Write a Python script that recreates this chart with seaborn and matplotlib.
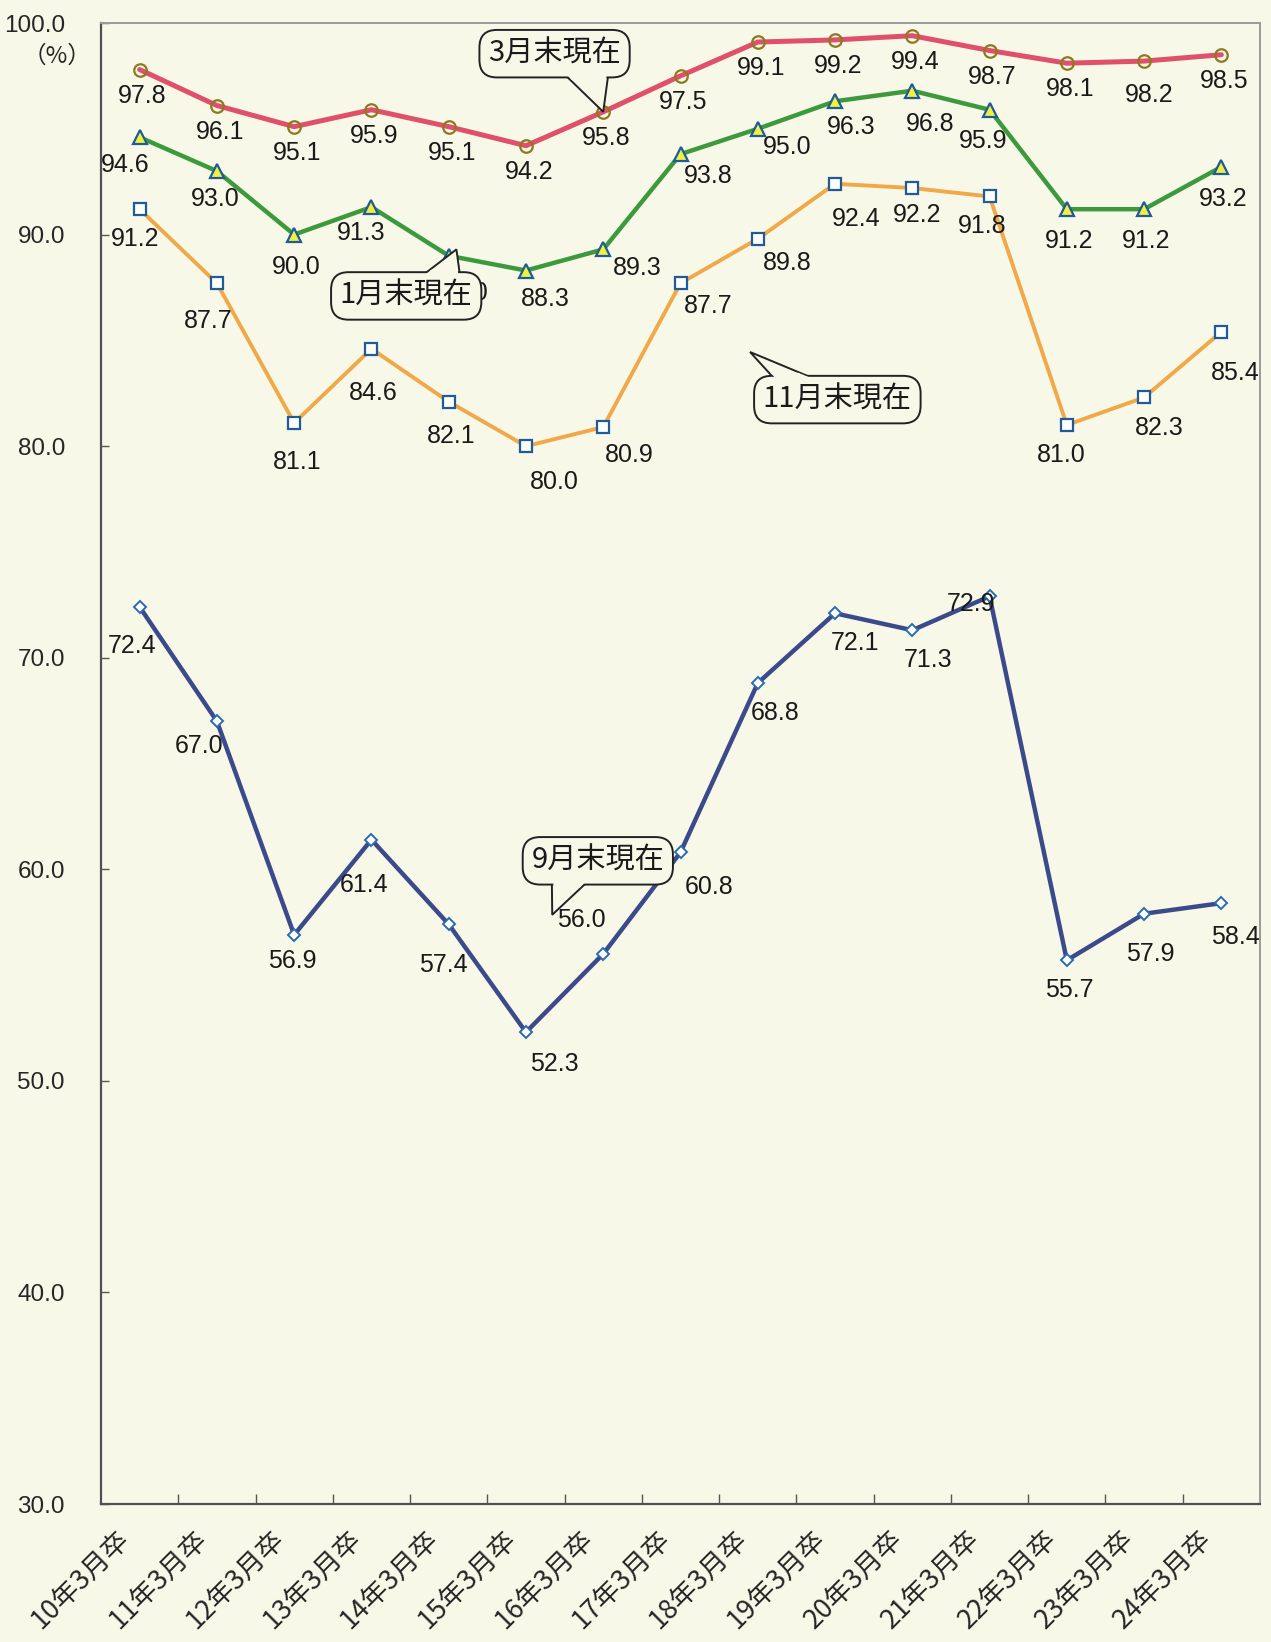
#!/usr/bin/env python3
"""Employment rate of new graduates at end of Sep / Nov / Jan / Mar (line chart)."""
import numpy as np
import pandas as pd
import seaborn as sns
import matplotlib.pyplot as plt
import matplotlib.transforms as mtransforms
from matplotlib.patches import Polygon

# ---- data ----
years = ["10年3月卒", "11年3月卒", "12年3月卒", "13年3月卒", "14年3月卒",
         "15年3月卒", "16年3月卒", "17年3月卒", "18年3月卒", "19年3月卒",
         "20年3月卒", "21年3月卒", "22年3月卒", "23年3月卒", "24年3月卒"]
rate_mar = [97.8, 96.1, 95.1, 95.9, 95.1, 94.2, 95.8, 97.5, 99.1, 99.2, 99.4, 98.7, 98.1, 98.2, 98.5]
rate_jan = [94.6, 93.0, 90.0, 91.3, 89.0, 88.3, 89.3, 93.8, 95.0, 96.3, 96.8, 95.9, 91.2, 91.2, 93.2]
rate_nov = [91.2, 87.7, 81.1, 84.6, 82.1, 80.0, 80.9, 87.7, 89.8, 92.4, 92.2, 91.8, 81.0, 82.3, 85.4]
rate_sep = [72.4, 67.0, 56.9, 61.4, 57.4, 52.3, 56.0, 60.8, 68.8, 72.1, 71.3, 72.9, 55.7, 57.9, 58.4]
y_ticks = [30, 40, 50, 60, 70, 80, 90, 100]

BG = "#f8f8e8"
INK = "#222222"
sns.set_theme(style="white")
plt.rcParams["font.family"] = ["Liberation Sans", "Noto Sans CJK JP", "DejaVu Sans"]
JP = ["Noto Sans CJK JP", "DejaVu Sans"]

# label nudges in pixels: default per series + exceptions
series = [
    dict(name="3月末現在", vals=rate_mar, color="#e0506a", lw=3.6,
         marker="o", ms=9, mfc="none", mec="#8a7a20", mew=1.6,
         nudge=(3, -26), fix={13: (5, -34), 16: (19, -25), 17: (12, -29), 18: (19, -34), 19: (20, -31)}),
    dict(name="1月末現在", vals=rate_jan, color="#3c9a3c", lw=3.2,
         marker="^", ms=10, mfc="#f0f040", mec="#1f5a9a", mew=1.6,
         nudge=(2, -32), fix={0: (-14, -28), 1: (-2, -28), 3: (-10, -26), 4: (16, -37), 5: (19, -28),
                              6: (34, -19), 7: (28, -22), 8: (29, -18), 9: (16, -26), 10: (18, -33),
                              11: (-6, -31)}),
    dict(name="11月末現在", vals=rate_nov, color="#f0a848", lw=2.8,
         marker="s", ms=9, mfc="white", mec="#1f5a9a", mew=1.6,
         nudge=(2, -34), fix={0: (-5, -30), 1: (-9, -38), 2: (3, -39), 3: (2, -44), 5: (28, -36),
                              6: (26, -28), 7: (28, -23), 8: (29, -24), 9: (21, -35), 10: (5, -27),
                              11: (-7, -30), 12: (-6, -30), 13: (15, -31), 14: (14, -41)}),
    dict(name="9月末現在", vals=rate_sep, color="#3a4a8a", lw=3.2,
         marker="D", ms=6.5, mfc="white", mec="#2a6ab0", mew=1.4,
         nudge=(2, -30), fix={0: (-8, -39), 1: (-18, -25), 2: (-2, -26), 3: (-7, -45), 4: (-5, -41),
                              5: (28, -32), 6: (-22, 34), 7: (29, -35), 8: (17, -30), 9: (20, -30),
                              10: (16, -30), 11: (-19, -8), 13: (6, -40), 14: (14, -34)}),
]

fig = plt.figure(figsize=(12.71, 16.42), dpi=100, facecolor=BG)
ax = fig.add_axes([101 / 1271, 138 / 1642, 1159 / 1271, 1481 / 1642])
ax.set_facecolor(BG)

pos = np.arange(len(years))
for s in series:
    df = pd.DataFrame({"x": pos, "y": s["vals"]})
    sns.lineplot(data=df, x="x", y="y", ax=ax, color=s["color"], linewidth=s["lw"],
                 marker=s["marker"], markersize=s["ms"], markerfacecolor=s["mfc"],
                 markeredgecolor=s["mec"], markeredgewidth=s["mew"], zorder=3)
    for i, v in enumerate(s["vals"]):
        dx, dy = s["fix"].get(i, s["nudge"])
        ax.annotate(f"{v:.1f}", xy=(i, v), xytext=(dx, dy), textcoords="offset pixels",
                    ha="center", va="center", fontsize=18, color="#1a1a1a", zorder=5)

ax.set_xlim(-0.5, len(years) - 0.5)
ax.set_ylim(30, 100)
ax.set_xlabel("")
ax.set_ylabel("")

# boundaries get the tick marks, category centres get the labels
ax.set_xticks(np.arange(0.5, len(years) - 0.5))
ax.set_xticklabels([])
ax.tick_params(axis="x", which="major", direction="in", length=7, width=1, color="#555555", bottom=True)
ax.set_xticks(pos, minor=True)
ax.set_xticklabels(years, minor=True, rotation=45, ha="right", va="center",
                   rotation_mode="anchor", family=JP, fontsize=19.5)
ax.tick_params(axis="x", which="minor", length=0, pad=22)
shift = mtransforms.ScaledTranslation(-14 / 100, 0, fig.dpi_scale_trans)
for lbl in ax.get_xticklabels(minor=True):
    lbl.set_transform(lbl.get_transform() + shift)

ax.set_yticks(y_ticks)
ax.set_yticklabels([f"{t:.1f}" for t in y_ticks], fontsize=17.5)
ax.tick_params(axis="y", direction="in", length=6, width=1, color="#555555", left=True, pad=26)

ax.annotate("（%）", xy=(0, 1), xycoords="axes fraction", xytext=(-44, -33),
            textcoords="offset pixels", ha="center", va="center", fontsize=17, family=JP)

for side in ["left", "bottom"]:
    ax.spines[side].set_color("#505050")
    ax.spines[side].set_linewidth(1.6)
for side in ["top", "right"]:
    ax.spines[side].set_color("#9a9a9a")
    ax.spines[side].set_linewidth(1.4)

# ---- speech-bubble callouts ----
# text, box centre, tail tip, tail base (pixel offsets from box centre), box side the tail leaves
callouts = [("3月末現在", (5.37, 98.55), (6.0, 95.8), (8, 54), "bottom"),
            ("1月末現在", (3.45, 87.1), (4.1, 89.3), (14, 54), "top"),
            ("11月末現在", (9.03, 82.2), (7.9, 84.45), (-61, -18), "top"),
            ("9月末現在", (5.93, 60.4), (5.34, 57.85), (-46, -8), "bottom")]
boxes = []
for txt, centre, tip, base, side in callouts:
    t = ax.text(*centre, txt, ha="center", va="center", fontsize=21, family=JP,
                color="#1a1a1a", zorder=10,
                bbox=dict(boxstyle="round,pad=0.3,rounding_size=0.6", fc=BG, ec=INK, lw=1.4))
    boxes.append(t)

fig.canvas.draw()
ident = mtransforms.IdentityTransform()
for t, (txt, centre, tip, base, side) in zip(boxes, callouts):
    bb = t.get_bbox_patch().get_window_extent()
    cx = (bb.x0 + bb.x1) / 2
    edge = bb.y0 if side == "bottom" else bb.y1
    inward = 1 if side == "bottom" else -1
    y_in = edge + inward * 5
    y_out = edge - inward * 3
    tx, ty = ax.transData.transform(tip)
    b1 = np.array([cx + base[0], y_in])
    b2 = np.array([cx + base[1], y_in])
    tipv = np.array([tx, ty])
    ax.add_patch(Polygon([b1, tipv, b2], closed=True, transform=ident,
                         fc=BG, ec=INK, lw=1.4, zorder=9))
    # cover the box outline where the tail joins it
    frac = (y_out - y_in) / (ty - y_in)
    p1 = b1 + frac * (tipv - b1)
    p2 = b2 + frac * (tipv - b2)
    ax.add_patch(Polygon([b1 + [1.5, 0], p1 + [1.5, 0], p2 - [1.5, 0], b2 - [1.5, 0]],
                         closed=True, transform=ident, fc=BG, ec="none", zorder=11))

fig.savefig("out.png", dpi=100, facecolor=BG)
